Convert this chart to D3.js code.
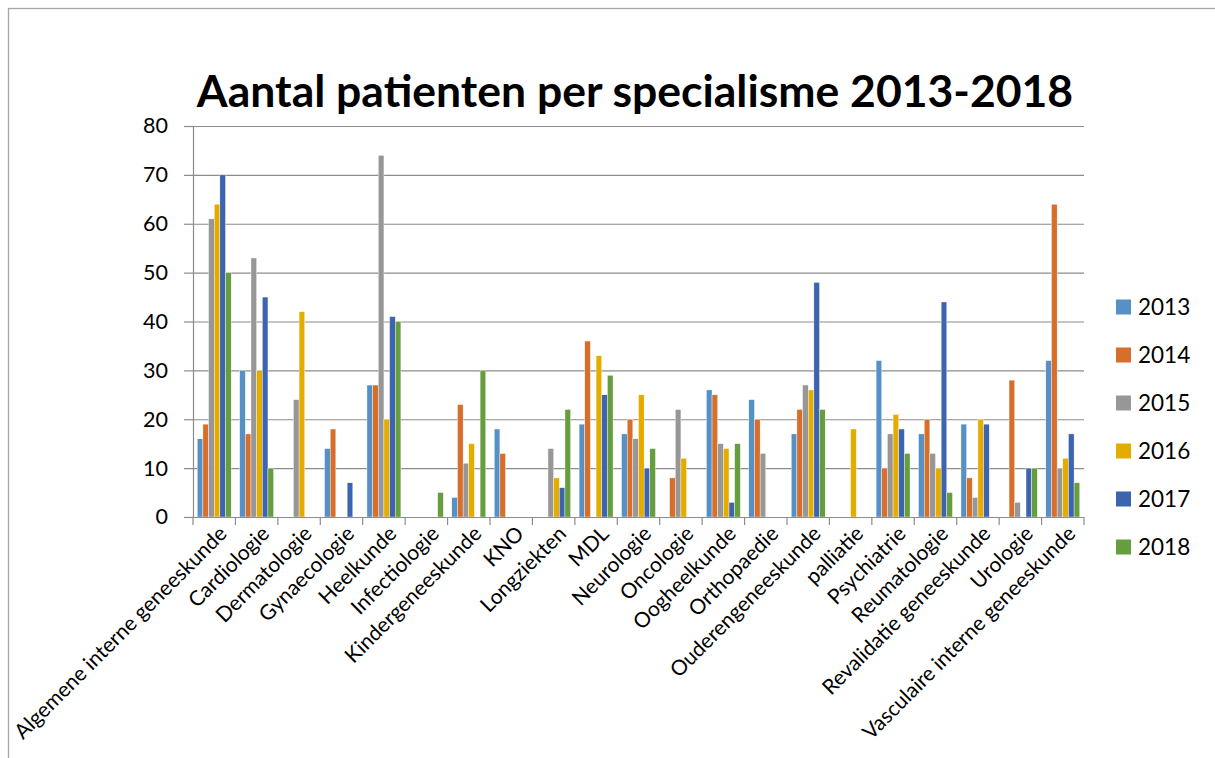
<!DOCTYPE html>
<html>
<head>
<meta charset="utf-8">
<script src="https://cdn.jsdelivr.net/npm/d3@7"></script>
<style>
  body { margin: 0; background: #fff; }
  svg { display: block; font-family: Lato, "Open Sans", sans-serif; }
</style>
</head>
<body>
<div id="chart"></div>
<script>
const categories = [
  "Algemene interne geneeskunde", "Cardiologie", "Dermatologie", "Gynaecologie",
  "Heelkunde", "Infectiologie", "Kindergeneeskunde", "KNO", "Longziekten", "MDL",
  "Neurologie", "Oncologie", "Oogheelkunde", "Orthopaedie", "Ouderengeneeskunde",
  "palliatie", "Psychiatrie", "Reumatologie", "Revalidatie geneeskunde", "Urologie",
  "Vasculaire interne geneeskunde"
];
const years = ["2013", "2014", "2015", "2016", "2017", "2018"];

const v2013 = [16, 30, 0, 14, 27, 0, 4, 18, 0, 19, 17, 0, 26, 24, 17, 0, 32, 17, 19, 0, 32];
const v2014 = [19, 17, 0, 18, 27, 0, 23, 13, 0, 36, 20, 8, 25, 20, 22, 0, 10, 20, 8, 28, 64];
const v2015 = [61, 53, 24, 0, 74, 0, 11, 0, 14, 0, 16, 22, 15, 13, 27, 0, 17, 13, 4, 3, 10];
const v2016 = [64, 30, 42, 0, 20, 0, 15, 0, 8, 33, 25, 12, 14, 0, 26, 18, 21, 10, 20, 0, 12];
const v2017 = [70, 45, 0, 7, 41, 0, 0, 0, 6, 25, 10, 0, 3, 0, 48, 0, 18, 44, 19, 10, 17];
const v2018 = [50, 10, 0, 0, 40, 5, 30, 0, 22, 29, 14, 0, 15, 0, 22, 0, 13, 5, 0, 10, 7];

const yTicks = [0, 10, 20, 30, 40, 50, 60, 70, 80];
const colors = ["#5590C7", "#D66F2C", "#979797", "#E5AC00", "#3D64AF", "#659D3F"];

const series = [v2013, v2014, v2015, v2016, v2017, v2018];

const width = 1215, height = 758;
const margin = { top: 126, right: 131, bottom: 241, left: 193 };
const innerW = width - margin.left - margin.right;
const innerH = height - margin.top - margin.bottom;

const svg = d3.select("#chart").append("svg")
  .attr("width", width)
  .attr("height", height);

// chart border (only top and left visible in the crop)
svg.append("rect")
  .attr("x", 8.5).attr("y", 8.5)
  .attr("width", width + 20).attr("height", height + 20)
  .attr("fill", "#fff")
  .attr("stroke", "#a6a6a6")
  .attr("stroke-width", 1.3);

svg.append("text")
  .attr("x", 635)
  .attr("y", 107)
  .attr("text-anchor", "middle")
  .style("font-size", "44.5px")
  .style("font-weight", "bold")
  .text("Aantal patienten per specialisme 2013-2018");

const g = svg.append("g").attr("transform", `translate(${margin.left},${margin.top})`);

const x0 = d3.scaleBand().domain(categories).range([0, innerW])
  .paddingInner(0.2).paddingOuter(0.1);
const x1 = d3.scaleBand().domain(years).range([0, x0.bandwidth()]);
const y = d3.scaleLinear().domain([0, 80]).range([innerH, 0]);

// gridlines
g.append("g")
  .selectAll("line")
  .data(yTicks.filter(d => d > 0))
  .enter().append("line")
  .attr("x1", 0).attr("x2", innerW)
  .attr("y1", d => y(d) + 0.5).attr("y2", d => y(d) + 0.5)
  .attr("stroke", "#8c8c8c")
  .attr("stroke-width", 1.2);

// bars
const groups = g.append("g").selectAll("g")
  .data(categories)
  .enter().append("g")
  .attr("transform", d => `translate(${x0(d)},0)`);

groups.selectAll("rect")
  .data((c, i) => years.map((yr, j) => ({ yr, j, v: series[j][i] })))
  .enter().append("rect")
  .filter(d => d.v > 0)
  .attr("x", d => x1(d.yr))
  .attr("y", d => y(d.v))
  .attr("width", x1.bandwidth())
  .attr("height", d => innerH - y(d.v))
  .attr("fill", d => colors[d.j])
  .attr("stroke", "#fff")
  .attr("stroke-width", 0.4);

// y axis
const yAxis = g.append("g")
  .call(d3.axisLeft(y).tickValues(yTicks).tickSize(9).tickPadding(16));
yAxis.select(".domain").attr("stroke", "#8c8c8c").attr("stroke-width", 1.2);
yAxis.selectAll(".tick line").attr("stroke", "#8c8c8c").attr("stroke-width", 1.2);
yAxis.selectAll("text").style("font-size", "21.5px").attr("fill", "#000")
  .style("font-family", "Lato, sans-serif");

// x axis: ticks at category boundaries
const xAxis = g.append("g").attr("transform", `translate(0,${innerH})`);
xAxis.append("line")
  .attr("x1", 0).attr("x2", innerW)
  .attr("y1", 0.5).attr("y2", 0.5)
  .attr("stroke", "#8c8c8c").attr("stroke-width", 1.2);
const step = x0.step();
xAxis.selectAll(".xt")
  .data(d3.range(categories.length + 1))
  .enter().append("line")
  .attr("x1", i => i * step).attr("x2", i => i * step)
  .attr("y1", 0).attr("y2", 8)
  .attr("stroke", "#8c8c8c").attr("stroke-width", 1.2);

xAxis.selectAll(".xl")
  .data(categories)
  .enter().append("text")
  .attr("text-anchor", "end")
  .attr("transform", d => `translate(${x0(d) + x0.bandwidth() / 2 + 14},${18}) rotate(-45)`)
  .style("font-size", "21px")
  .attr("fill", "#000")
  .text(d => d);

// legend
const legend = svg.append("g");
const items = legend.selectAll("g")
  .data(years)
  .enter().append("g")
  .attr("transform", (d, i) => `translate(1116,${307 + i * 48})`);
items.append("rect")
  .attr("x", 0).attr("y", -7.5)
  .attr("width", 15).attr("height", 15)
  .attr("fill", (d, i) => colors[i]);
items.append("text")
  .attr("x", 22).attr("y", 8)
  .style("font-size", "22.5px")
  .attr("fill", "#000")
  .text(d => d);
</script>
</body>
</html>
